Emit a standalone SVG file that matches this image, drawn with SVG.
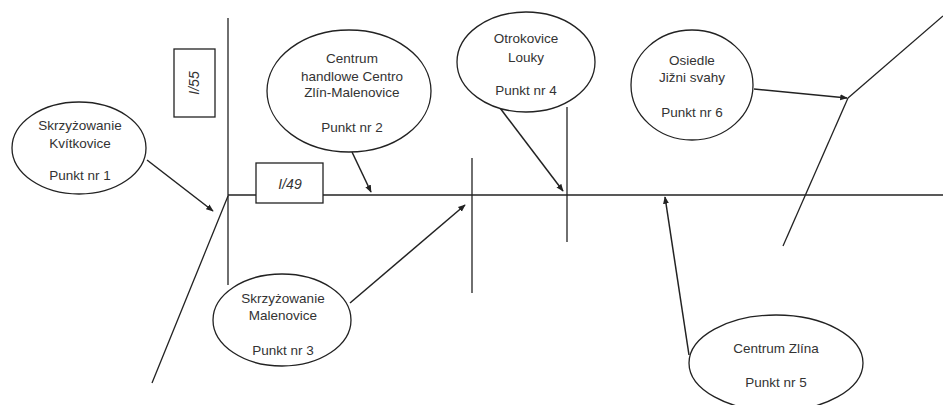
<svg xmlns="http://www.w3.org/2000/svg" width="943" height="405" viewBox="0 0 943 405">
<style>
.road{stroke:#222;stroke-width:1.3;fill:none}
.node ellipse{fill:#fff;stroke:#222;stroke-width:1.3}
.node text,.lbl text{font-family:"Liberation Sans",Arial,sans-serif;font-size:13.5px;fill:#333;text-anchor:middle}
.lbl rect{fill:#fff;stroke:#222;stroke-width:1.3}
.lbl text{font-style:italic;font-size:14px}
.conn line{stroke:#222;stroke-width:1.5;marker-end:url(#ah)}
</style>
<defs>
<marker id="ah" viewBox="0 0 10 10" refX="9" refY="5" markerWidth="5" markerHeight="5" orient="auto" markerUnits="strokeWidth">
<path d="M0,1 L10,5 L0,9 z" fill="#222"/>
</marker>
</defs>
<rect width="943" height="405" fill="#fff"/>
<g id="roads">
<line class="road" x1="228" y1="195" x2="943" y2="195"/>
<line class="road" x1="228" y1="18" x2="228" y2="285"/>
<line class="road" x1="228" y1="196" x2="152" y2="383"/>
<line class="road" x1="472" y1="158" x2="472" y2="293"/>
<line class="road" x1="567" y1="107" x2="567" y2="242"/>
<line class="road" x1="943" y1="16" x2="848" y2="98"/>
<line class="road" x1="848" y1="98" x2="783" y2="246"/>
</g>
<g id="label-I55" class="lbl">
<rect x="174" y="49" width="41" height="68"/>
<text transform="translate(199,83) rotate(-90)">I/55</text>
</g>
<g id="label-I49" class="lbl">
<rect x="256" y="163" width="67" height="40"/>
<text x="290" y="189">I/49</text>
</g>
<g id="connectors" class="conn">
<line x1="147" y1="160" x2="213" y2="211"/>
<line x1="352" y1="152" x2="371" y2="192"/>
<line x1="350" y1="303" x2="465" y2="205"/>
<line x1="500" y1="108" x2="563" y2="191"/>
<line x1="689" y1="355" x2="665" y2="197"/>
<line x1="754" y1="89" x2="847" y2="98"/>
</g>
<g id="node1" class="node">
<ellipse cx="79" cy="148" rx="67" ry="46"/>
<text x="80" y="130">Skrzyżowanie</text>
<text x="80" y="148">Kvítkovice</text>
<text x="80" y="180">Punkt nr 1</text>
</g>
<g id="node2" class="node">
<ellipse cx="349" cy="91" rx="82" ry="61"/>
<text x="352" y="63">Centrum</text>
<text x="352" y="81">handlowe Centro</text>
<text x="352" y="97">Zlín-Malenovice</text>
<text x="352" y="132">Punkt nr 2</text>
</g>
<g id="node3" class="node">
<ellipse cx="282" cy="320" rx="69" ry="46"/>
<text x="283" y="303">Skrzyżowanie</text>
<text x="283" y="320">Malenovice</text>
<text x="283" y="355">Punkt nr 3</text>
</g>
<g id="node4" class="node">
<ellipse cx="526" cy="62" rx="69" ry="50"/>
<text x="526" y="43">Otrokovice</text>
<text x="526" y="62">Louky</text>
<text x="526" y="95">Punkt nr 4</text>
</g>
<g id="node5" class="node">
<ellipse cx="776" cy="363" rx="87" ry="48"/>
<text x="776" y="353">Centrum Zlína</text>
<text x="776" y="387">Punkt nr 5</text>
</g>
<g id="node6" class="node">
<ellipse cx="692" cy="85" rx="61" ry="55"/>
<text x="692" y="65">Osiedle</text>
<text x="692" y="82">Jižni svahy</text>
<text x="692" y="117">Punkt nr 6</text>
</g>
</svg>
